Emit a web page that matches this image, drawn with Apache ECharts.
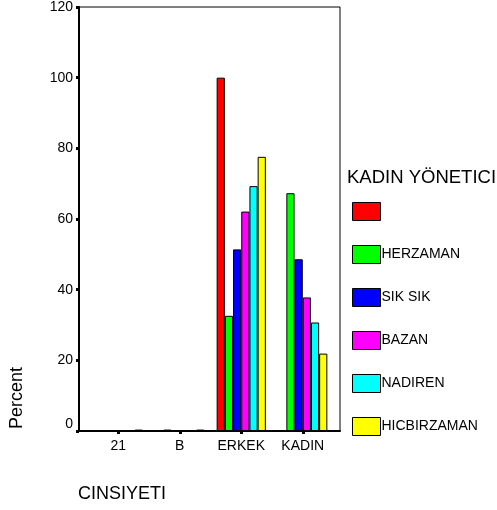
<!DOCTYPE html>
<html><head><meta charset="utf-8">
<script src="https://cdn.jsdelivr.net/npm/echarts@6/dist/echarts.min.js"></script>
<style>html,body{margin:0;padding:0;background:#fff}#c{width:497px;height:510px}</style>
</head><body><div id="c"></div>
<script>
const categories = ['21', 'B', 'ERKEK', 'KADIN'];
const seriesNames = [' ', 'HERZAMAN', 'SIK SIK', 'BAZAN', 'NADIREN', 'HICBIRZAMAN'];
const seriesColors = ['#ff0000', '#00ff00', '#0000ff', '#ff00ff', '#00ffff', '#ffff00'];
const valuesBlank = [0, 0, 100, 0];
const valuesHerzaman = [0, 0.4, 32.6, 67.3];
const valuesSikSik = [0, 0, 51.4, 48.6];
const valuesBazan = [0, 0, 62.1, 37.8];
const valuesNadiren = [0, 0, 69.3, 30.7];
const valuesHicbirzaman = [0.4, 0.4, 77.6, 21.9];
const yTicks = [0, 20, 40, 60, 80, 100, 120];
const legendTitle = 'KADIN YÖNETICI';
const xName = 'CINSIYETI';
const yName = 'Percent';

const allValues = [valuesBlank, valuesHerzaman, valuesSikSik, valuesBazan, valuesNadiren, valuesHicbirzaman];
const FONT = "'Liberation Sans', Arial, sans-serif";

const chart = echarts.init(document.getElementById('c'), null, {renderer: 'canvas'});
chart.setOption({
  animation: false,
  backgroundColor: '#fff',
  textStyle: {fontFamily: FONT},
  title: {
    text: legendTitle, left: 347, top: 168, padding: 0,
    textStyle: {fontFamily: FONT, fontSize: 18.5, fontWeight: 'normal', color: '#000'}
  },
  legend: {
    orient: 'vertical', left: 352, top: 202, padding: 0,
    itemWidth: 28, itemHeight: 18, itemGap: 24,
    icon: 'rect',
    data: seriesNames,
    itemStyle: {borderColor: '#000', borderWidth: 1},
    textStyle: {fontFamily: FONT, fontSize: 14, color: '#000', padding: [0, 0, 0, -4]}
  },
  grid: [
    {left: 79, right: 157, top: 7, bottom: 79, show: true, borderColor: '#000', borderWidth: 1, backgroundColor: 'transparent'},
    {left: 87.5, right: 163.5, top: 7, bottom: 79}
  ],
  xAxis: [
    {gridIndex: 0, type: 'value', min: 0, max: 1, axisLine: {show: true, onZero: false, lineStyle: {color: '#000', width: 2}}, axisTick: {show: false}, axisLabel: {show: false}, splitLine: {show: false}},
    {gridIndex: 1, type: 'category', data: categories,
      axisLine: {show: false},
      axisTick: {show: true, alignWithLabel: true, interval: 0, length: 3, lineStyle: {color: '#000', width: 3}},
      axisLabel: {color: '#000', fontSize: 14, fontFamily: FONT, margin: 8, interval: 0},
      splitLine: {show: false}}
  ],
  yAxis: [
    {gridIndex: 0, type: 'value', min: 0, max: 1, axisLine: {show: false}, axisTick: {show: false}, axisLabel: {show: false}, splitLine: {show: false}},
    {gridIndex: 1, type: 'value', min: 0, max: 120, interval: 20, offset: 8.5,
      axisLine: {show: true, lineStyle: {color: '#000', width: 2}},
      axisTick: {show: true, length: 3, lineStyle: {color: '#000', width: 3}},
      axisLabel: {color: '#000', fontSize: 14, fontFamily: FONT, margin: 6,
        formatter: v => v === 0 ? '{z|0}' : String(v),
        rich: {z: {fontSize: 14, fontFamily: FONT, color: '#000', padding: [0, 0, 14, 0]}}},
      splitLine: {show: false}}
  ],
  graphic: [
    {type: 'text', x: 17, y: 398, rotation: Math.PI / 2,
      style: {text: yName, fontSize: 18, fontFamily: FONT, fill: '#000', align: 'center', verticalAlign: 'middle'}},
    {type: 'text', x: 78, y: 494,
      style: {text: xName, fontSize: 18, fontFamily: FONT, fill: '#000', align: 'left', verticalAlign: 'middle'}}
  ],
  series: seriesNames.map((n, i) => ({
    name: n, type: 'bar', xAxisIndex: 1, yAxisIndex: 1,
    data: allValues[i],
    barGap: '0%', barCategoryGap: '20%',
    itemStyle: {color: seriesColors[i], borderColor: '#000', borderWidth: 1}
  }))
});
</script></body></html>
